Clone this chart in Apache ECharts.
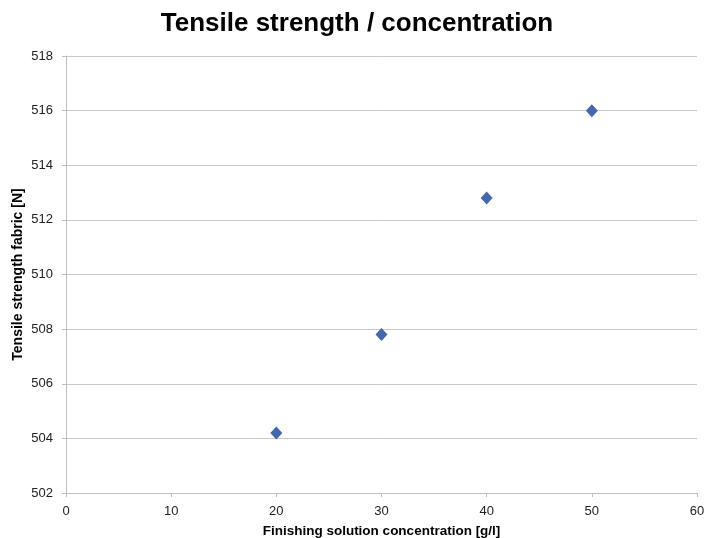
<!DOCTYPE html>
<html><head><meta charset="utf-8">
<script src="https://cdn.jsdelivr.net/npm/echarts@6/dist/echarts.min.js"></script>
<style>html,body{margin:0;padding:0;background:#fff}#c{width:707px;height:538px}</style>
</head><body><div id="c"></div>
<script>
const concentrations = [20, 30, 40, 50];
const tensileStrength = [504.2, 507.8, 512.8, 516.0];
const titleText = 'Tensile strength / concentration';
const xName = 'Finishing solution concentration [g/l]';
const yName = 'Tensile strength fabric [N]';

const chart = echarts.init(document.getElementById('c'));
chart.setOption({
  animation: false,
  backgroundColor: '#fff',
  title: {
    text: titleText, left: 352, textAlign: 'center', top: 6,
    textStyle: {fontFamily: 'Liberation Sans, Arial', fontSize: 26, fontWeight: 'bold', color: '#000'}
  },
  grid: {left: 66, right: 10, top: 56, bottom: 45, containLabel: false, outerBoundsMode: 'none'},
  xAxis: {
    type: 'value', min: 0, max: 60, interval: 10,
    name: xName, nameLocation: 'middle', nameGap: 31, nameMoveOverlap: false,
    nameTextStyle: {fontFamily: 'Liberation Sans, Arial', fontSize: 13.5, fontWeight: 'bold', color: '#000'},
    axisLine: {show: true, lineStyle: {color: '#bfbfbf', width: 1}},
    axisTick: {show: true, length: 4, lineStyle: {color: '#bfbfbf'}},
    axisLabel: {fontFamily: 'Liberation Sans, Arial', fontSize: 13, color: '#222', margin: 12},
    splitLine: {show: false}
  },
  yAxis: {
    type: 'value', min: 502, max: 518, interval: 2,
    name: yName, nameLocation: 'middle', nameGap: 41, nameRotate: 90, nameMoveOverlap: false,
    nameTextStyle: {fontFamily: 'Liberation Sans, Arial', fontSize: 14, fontWeight: 'bold', color: '#000'},
    axisLine: {show: true, lineStyle: {color: '#bfbfbf', width: 1}},
    axisTick: {show: true, length: 4, lineStyle: {color: '#bfbfbf'}},
    axisLabel: {fontFamily: 'Liberation Sans, Arial', fontSize: 13, color: '#222', margin: 13},
    splitLine: {show: true, lineStyle: {color: '#c8c8c8', width: 1}}
  },
  series: [{
    type: 'scatter',
    symbol: 'diamond', symbolSize: [12, 13],
    itemStyle: {color: '#4468b0', opacity: 1},
    data: concentrations.map((x, i) => [x, tensileStrength[i]])
  }]
});
</script></body></html>
